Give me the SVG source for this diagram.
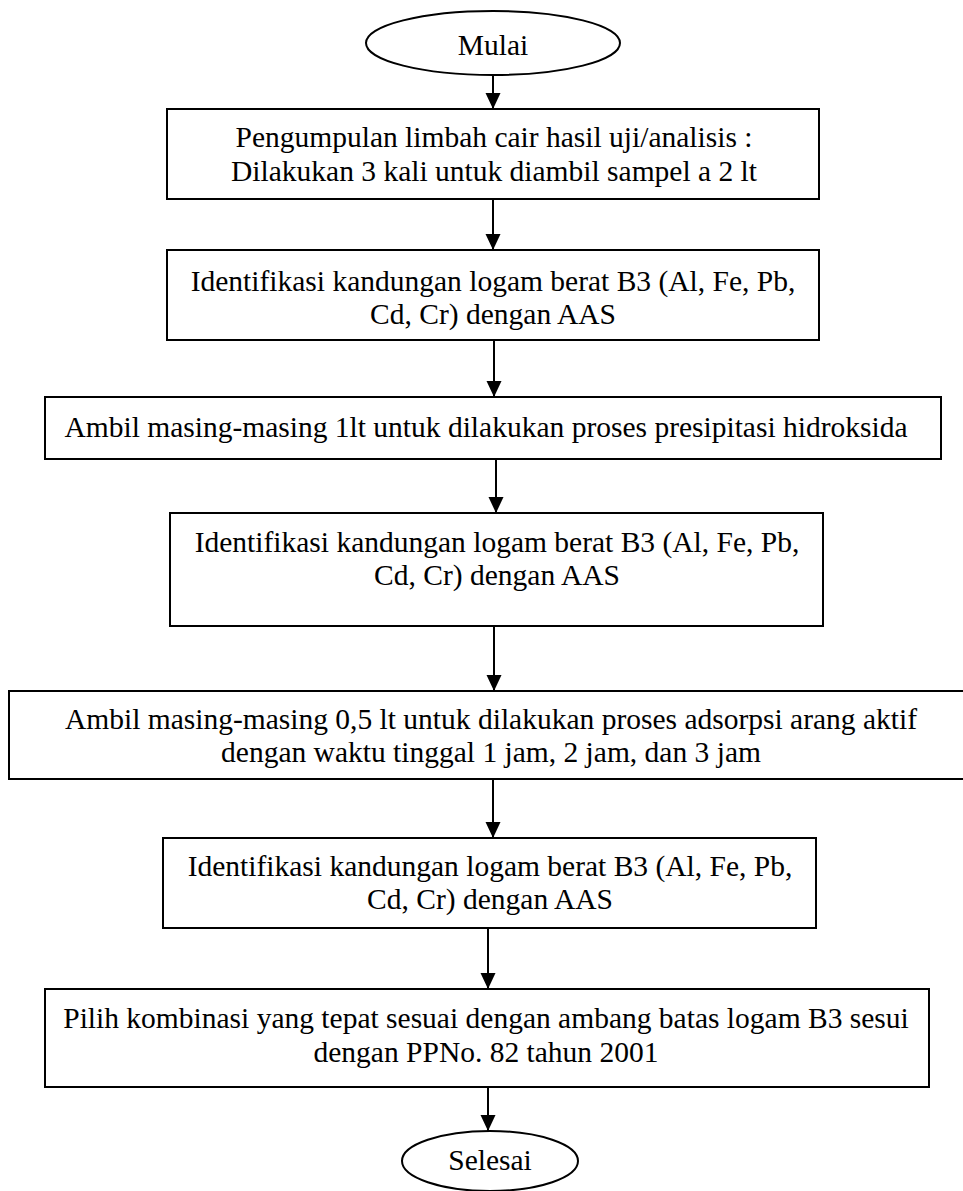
<svg xmlns="http://www.w3.org/2000/svg" width="963" height="1191" viewBox="0 0 963 1191">
<defs>
<marker id="ah" markerUnits="userSpaceOnUse" markerWidth="16" markerHeight="18" refX="16" refY="7.5" orient="auto">
<path d="M0,0 L16,7.5 L0,15 Z" fill="#000"/>
</marker>
<style>
.n{fill:#fff;stroke:#000;stroke-width:2}
.t{font-family:'Liberation Serif','Times New Roman',Times,serif;font-size:29.5px;fill:#000;text-anchor:middle}
.c{stroke:#000;stroke-width:2;fill:none;marker-end:url(#ah)}
</style>
</defs>
<rect width="963" height="1191" fill="#fff"/>
<g id="connectors">
<line class="c" x1="493" y1="75" x2="493" y2="109"/>
<line class="c" x1="493" y1="199" x2="493" y2="250"/>
<line class="c" x1="494" y1="340" x2="494" y2="397"/>
<line class="c" x1="496" y1="459" x2="496" y2="513"/>
<line class="c" x1="494" y1="626" x2="494" y2="691"/>
<line class="c" x1="493" y1="779" x2="493" y2="838"/>
<line class="c" x1="488" y1="928" x2="488" y2="989"/>
<line class="c" x1="488" y1="1087" x2="488" y2="1131"/>
</g>
<g id="start">
<ellipse class="n" cx="493" cy="43" rx="127" ry="32"/>
<text class="t" x="493" y="55">Mulai</text>
</g>
<g id="n1">
<rect class="n" x="167" y="109" width="652" height="90"/>
<text class="t" x="494" y="147">Pengumpulan limbah cair hasil uji/analisis :</text>
<text class="t" x="494" y="181">Dilakukan 3 kali untuk diambil sampel a 2 lt</text>
</g>
<g id="n2">
<rect class="n" x="167" y="250" width="652" height="90"/>
<text class="t" x="493" y="291">Identifikasi kandungan logam berat B3 (Al, Fe, Pb,</text>
<text class="t" x="493" y="324">Cd, Cr) dengan AAS</text>
</g>
<g id="n3">
<rect class="n" x="45" y="397" width="896" height="62"/>
<text class="t" x="486" y="437">Ambil masing-masing 1lt untuk dilakukan proses presipitasi hidroksida</text>
</g>
<g id="n4">
<rect class="n" x="170" y="513" width="653" height="113"/>
<text class="t" x="497" y="552">Identifikasi kandungan logam berat B3 (Al, Fe, Pb,</text>
<text class="t" x="497" y="585">Cd, Cr) dengan AAS</text>
</g>
<g id="n5">
<rect class="n" x="9" y="691" width="966" height="88"/>
<text class="t" x="491" y="729">Ambil masing-masing 0,5 lt untuk dilakukan proses adsorpsi arang aktif</text>
<text class="t" x="491" y="762">dengan waktu tinggal 1 jam, 2 jam, dan 3 jam</text>
</g>
<g id="n6">
<rect class="n" x="163" y="838" width="653" height="90"/>
<text class="t" x="490" y="876">Identifikasi kandungan logam berat B3 (Al, Fe, Pb,</text>
<text class="t" x="490" y="909">Cd, Cr) dengan AAS</text>
</g>
<g id="n7">
<rect class="n" x="45" y="989" width="884" height="98"/>
<text class="t" x="486" y="1028">Pilih kombinasi yang tepat sesuai dengan ambang batas logam B3 sesui</text>
<text class="t" x="486" y="1062">dengan PPNo. 82 tahun 2001</text>
</g>
<g id="end">
<ellipse class="n" cx="490" cy="1161" rx="88" ry="30"/>
<text class="t" x="490" y="1170">Selesai</text>
</g>
</svg>
